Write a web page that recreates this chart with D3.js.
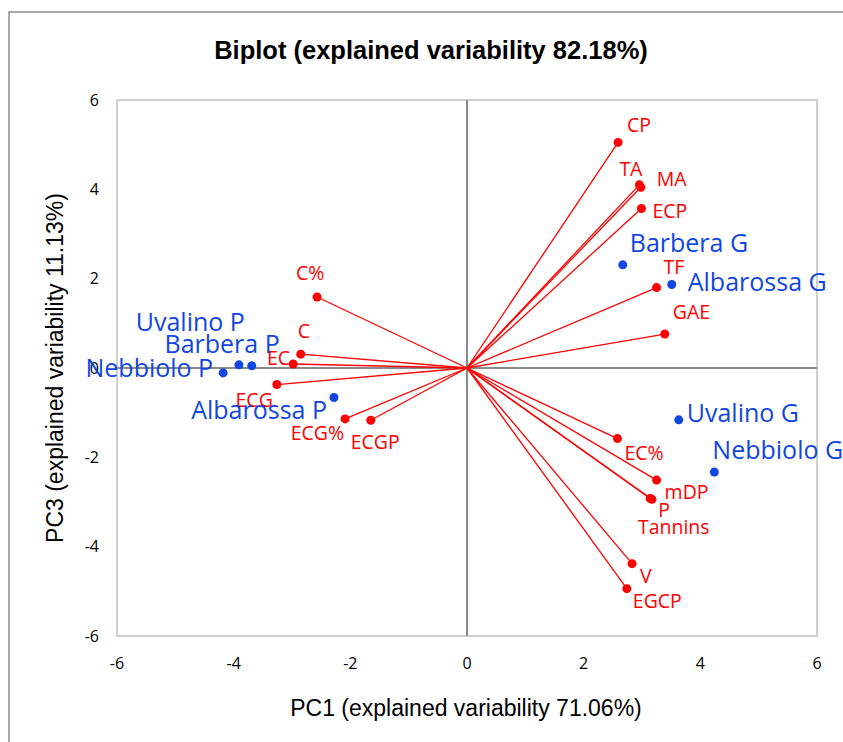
<!DOCTYPE html>
<html>
<head>
<meta charset="utf-8">
<script src="https://cdn.jsdelivr.net/npm/d3@7"></script>
<style>
  body { margin: 0; background: #fff; }
  svg { display: block; }
  .tick-label { font-family: "Open Sans", sans-serif; font-size: 16px; fill: #000; }
  .var-label { font-family: "Open Sans", sans-serif; font-size: 19.5px; fill: #ff0000; }
  .obs-label { font-family: "Open Sans", sans-serif; font-size: 25px; fill: #1246e0; }
</style>
</head>
<body>
<div class="biplot-wrapper"></div>
<script>
// variables (red vectors)
const varNames = ['CP', 'TA', 'MA', 'ECP', 'TF', 'GAE', 'EC%', 'mDP', 'P', 'Tannins', 'V', 'EGCP',
  'C%', 'C', 'EC', 'ECG', 'ECG%', 'ECGP'];
const varPC1 = [2.59, 2.955, 2.98, 2.99, 3.25, 3.39, 2.58, 3.25, 3.14, 3.17, 2.83, 2.74,
  -2.57, -2.85, -2.98, -3.26, -2.09, -1.65];
const varPC3 = [5.05, 4.10, 4.045, 3.57, 1.80, 0.76, -1.58, -2.51, -2.92, -2.94, -4.38, -4.94,
  1.59, 0.31, 0.09, -0.37, -1.14, -1.17];

// observations (blue points)
const obsNames = ['Barbera G', 'Albarossa G', 'Uvalino G', 'Nebbiolo G',
  'Uvalino P', 'Barbera P', 'Nebbiolo P', 'Albarossa P'];
const obsPC1 = [2.67, 3.51, 3.63, 4.24, -3.91, -3.69, -4.18, -2.28];
const obsPC3 = [2.31, 1.87, -1.16, -2.33, 0.07, 0.05, -0.11, -0.66];

const ticks = [-6, -4, -2, 0, 2, 4, 6];

const title = 'Biplot (explained variability 82.18%)';
const xTitle = 'PC1 (explained variability 71.06%)';
const yTitle = 'PC3 (explained variability 11.13%)';

// label placement relative to each point (px)
const varLabelPos = {
  'CP': [9, -10, 'start'], 'TA': [-20, -9, 'start'], 'MA': [16, -1, 'start'],
  'ECP': [11, 9, 'start'], 'TF': [7, -14, 'start'], 'GAE': [8, -15, 'start'],
  'EC%': [7, 21, 'start'], 'mDP': [8, 19, 'start'], 'P': [8, 19, 'start'],
  'Tannins': [-14, 35, 'start'], 'V': [8, 19, 'start'], 'EGCP': [6, 19, 'start'],
  'C%': [-21, -17, 'start'], 'C': [-3, -16, 'start'], 'EC': [-3, 1, 'end'],
  'ECG': [-4, 22, 'end'], 'ECG%': [-1, 21, 'end'], 'ECGP': [-20, 29, 'start']
};
const obsLabelPos = {
  'Barbera G': [7, -13, 'start'], 'Albarossa G': [16, 7, 'start'],
  'Uvalino G': [8, 2, 'start'], 'Nebbiolo G': [-2, -13, 'start'],
  'Uvalino P': [6, -34, 'end'], 'Barbera P': [28, -13, 'end'],
  'Nebbiolo P': [-10, 4, 'end'], 'Albarossa P': [-7, 22, 'end']
};

const width = 843, height = 742;
const plot = {left: 117, right: 817, top: 100, bottom: 636};

const svg = d3.select('.biplot-wrapper')
  .append('svg')
  .attr('width', width)
  .attr('height', height);

// outer chart frame
svg.append('rect')
  .attr('x', 9).attr('y', 12)
  .attr('width', width + 10).attr('height', height + 10)
  .attr('fill', 'none')
  .attr('stroke', '#8c8c8c')
  .attr('stroke-width', 1.5);

const xScale = d3.scaleLinear().domain([-6, 6]).range([plot.left, plot.right]);
const yScale = d3.scaleLinear().domain([-6, 6]).range([plot.bottom, plot.top]);

// plot area border
svg.append('rect')
  .attr('x', plot.left).attr('y', plot.top)
  .attr('width', plot.right - plot.left).attr('height', plot.bottom - plot.top)
  .attr('fill', 'none')
  .attr('stroke', '#cfcfcf')
  .attr('stroke-width', 2);

// zero axes
svg.append('line')
  .attr('x1', xScale(0)).attr('x2', xScale(0))
  .attr('y1', yScale(6)).attr('y2', yScale(-6))
  .attr('stroke', '#8a8a8a').attr('stroke-width', 2);
svg.append('line')
  .attr('x1', xScale(-6)).attr('x2', xScale(6))
  .attr('y1', yScale(0)).attr('y2', yScale(0))
  .attr('stroke', '#8a8a8a').attr('stroke-width', 2);

// tick labels
svg.append('g').selectAll('text')
  .data(ticks)
  .enter()
  .append('text')
  .attr('class', 'tick-label')
  .attr('x', 99)
  .attr('y', d => yScale(d))
  .attr('dy', '0.35em')
  .attr('text-anchor', 'end')
  .text(d => d);

svg.append('g').selectAll('text')
  .data(ticks)
  .enter()
  .append('text')
  .attr('class', 'tick-label')
  .attr('x', d => xScale(d))
  .attr('y', 663)
  .attr('dy', '0.35em')
  .attr('text-anchor', 'middle')
  .text(d => d);

// titles
svg.append('text')
  .attr('x', 431).attr('y', 59)
  .attr('text-anchor', 'middle')
  .style('font-family', '"Liberation Sans", Arial, sans-serif')
  .style('font-weight', 'bold')
  .style('font-size', '25.5px')
  .text(title);

svg.append('text')
  .attr('x', 466).attr('y', 716)
  .attr('text-anchor', 'middle')
  .style('font-family', '"Liberation Sans", Arial, sans-serif')
  .style('font-size', '23px')
  .text(xTitle);

svg.append('text')
  .attr('transform', `translate(63,${yScale(0)}) rotate(-90)`)
  .attr('text-anchor', 'middle')
  .style('font-family', '"Liberation Sans", Arial, sans-serif')
  .style('font-size', '23px')
  .text(yTitle);

const vars = varNames.map((d, i) => ({name: d, x: varPC1[i], y: varPC3[i]}));
const obs = obsNames.map((d, i) => ({name: d, x: obsPC1[i], y: obsPC3[i]}));

const vectors = svg.append('g');

vectors.selectAll('line')
  .data(vars)
  .enter()
  .append('line')
  .attr('x1', xScale(0)).attr('y1', yScale(0))
  .attr('x2', d => xScale(d.x)).attr('y2', d => yScale(d.y))
  .attr('stroke', '#ff0000')
  .attr('stroke-width', 1.3);

vectors.selectAll('circle')
  .data(vars)
  .enter()
  .append('circle')
  .attr('cx', d => xScale(d.x)).attr('cy', d => yScale(d.y))
  .attr('r', 4.5)
  .attr('fill', '#ff0000');

vectors.selectAll('text')
  .data(vars)
  .enter()
  .append('text')
  .attr('class', 'var-label')
  .attr('x', d => xScale(d.x) + varLabelPos[d.name][0])
  .attr('y', d => yScale(d.y) + varLabelPos[d.name][1])
  .attr('text-anchor', d => varLabelPos[d.name][2])
  .text(d => d.name);

const points = svg.append('g');

points.selectAll('circle')
  .data(obs)
  .enter()
  .append('circle')
  .attr('cx', d => xScale(d.x)).attr('cy', d => yScale(d.y))
  .attr('r', 4.5)
  .attr('fill', '#1246e0');

points.selectAll('text')
  .data(obs)
  .enter()
  .append('text')
  .attr('class', 'obs-label')
  .attr('x', d => xScale(d.x) + obsLabelPos[d.name][0])
  .attr('y', d => yScale(d.y) + obsLabelPos[d.name][1])
  .attr('text-anchor', d => obsLabelPos[d.name][2])
  .text(d => d.name);
</script>
</body>
</html>
